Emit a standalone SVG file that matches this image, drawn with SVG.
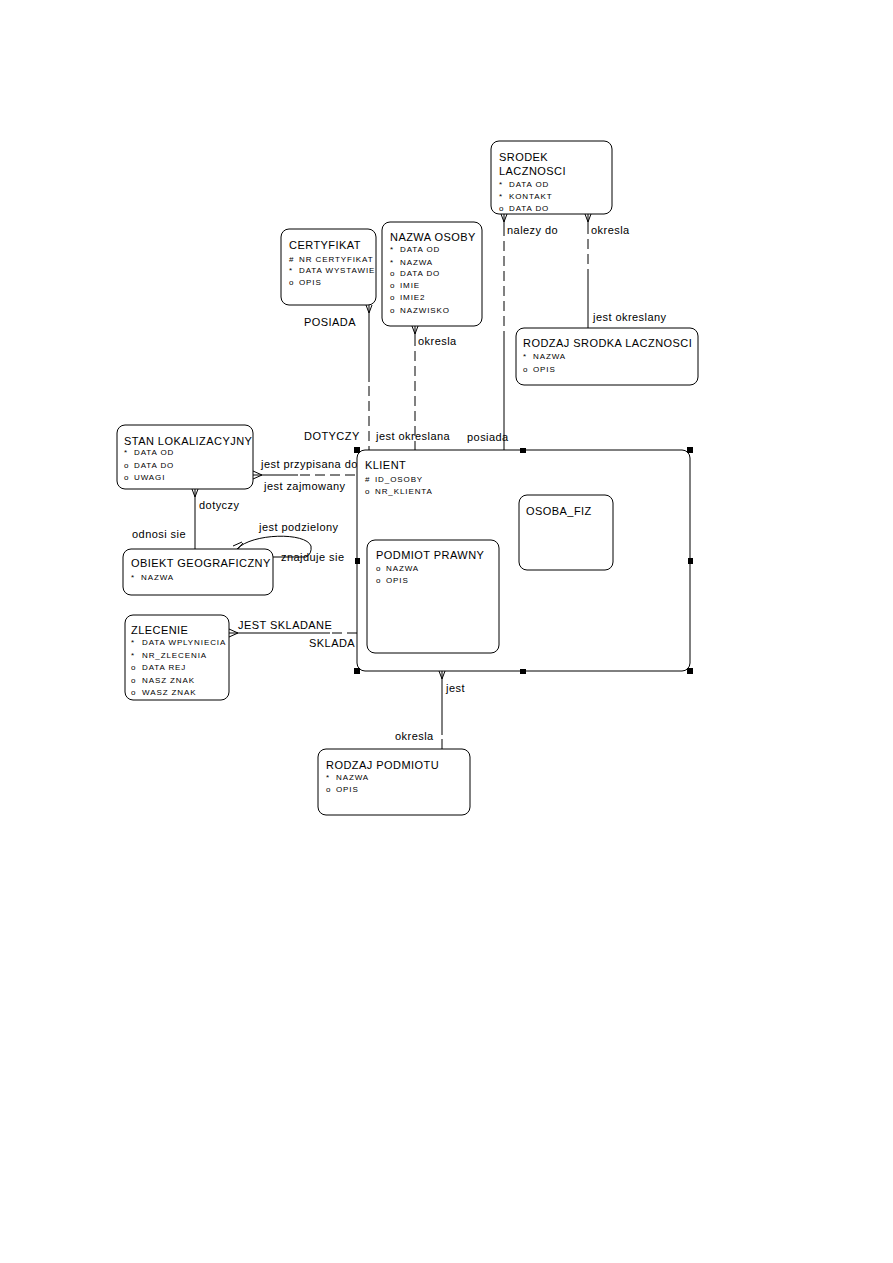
<svg xmlns="http://www.w3.org/2000/svg" width="893" height="1263" viewBox="0 0 893 1263">
<style>
.box{fill:#fff;stroke:#000;stroke-width:1}
.t{font-family:"Liberation Sans",Arial,sans-serif;font-size:11px;letter-spacing:0.45px;fill:#000}
.a{font-family:"Liberation Sans",Arial,sans-serif;font-size:8px;letter-spacing:0.9px;fill:#000}
.l{font-family:"Liberation Sans",Arial,sans-serif;font-size:11px;letter-spacing:0.45px;fill:#000}
.s{stroke:#000;stroke-width:1;fill:none}
.d{stroke:#000;stroke-width:1;fill:none;stroke-dasharray:10,5}
.h{fill:#000}
</style>
<defs>
<clipPath id="cc"><rect x="281" y="229" width="95" height="76"/></clipPath>
</defs>
<rect width="893" height="1263" fill="#fff"/>

<g id="connectors">
  <!-- SRODEK -> KLIENT -->
  <path class="s" d="M504,214 V226 M501,214 L504,222 L507,214"/>
  <path class="d" d="M504,226 V332"/>
  <path class="s" d="M504,332 V450"/>
  <!-- SRODEK -> RODZAJ SRODKA -->
  <path class="s" d="M588,214 V224 M585,214 L588,222 L591,214"/>
  <path class="d" d="M588,224 V270"/>
  <path class="s" d="M588,270 V328"/>
  <!-- CERTYFIKAT -> KLIENT -->
  <path class="s" d="M369,305 V382 M366,305 L369,313 L372,305"/>
  <path class="d" d="M369,386 V450"/>
  <!-- NAZWA OSOBY -> KLIENT -->
  <path class="s" d="M415,326 V336 M412,326 L415,334 L418,326"/>
  <path class="d" d="M415,336 V442"/>
  <path class="s" d="M415,442 V450"/>
  <!-- STAN -> KLIENT -->
  <path class="s" d="M253,475 H298 M253,471 L262,475 L253,479"/>
  <path class="d" d="M300,475 H357"/>
  <!-- STAN -> OBIEKT -->
  <path class="s" d="M195,489 V549 M192,489 L195,497 L198,489"/>
  <!-- OBIEKT self loop -->
  <path class="s" d="M273,557 H306 Q312,554 311,546 C306,532 252,533 237,549"/>
  <path class="s" d="M233,546 L242,542 M237,550 L243,543"/>
  <!-- ZLECENIE -> PODMIOT PRAWNY -->
  <path class="s" d="M229,633 H330 M229,629 L238,633 L229,637"/>
  <path class="d" d="M332,633 H365"/>
  <!-- KLIENT -> RODZAJ PODMIOTU -->
  <path class="s" d="M442,671 V735 M439,671 L442,679 L445,671"/>
  <path class="s" d="M442,739 V749"/>
</g>

<g id="labels">
  <text class="l" x="507" y="234">nalezy do</text>
  <text class="l" x="591" y="234">okresla</text>
  <text class="l" x="593" y="321">jest okreslany</text>
  <text class="l" x="304" y="326">POSIADA</text>
  <text class="l" x="418" y="345">okresla</text>
  <text class="l" x="304" y="440">DOTYCZY</text>
  <text class="l" x="376" y="440">jest okreslana</text>
  <text class="l" x="467" y="441">posiada</text>
  <text class="l" x="261" y="468">jest przypisana do</text>
  <text class="l" x="264" y="490">jest zajmowany</text>
  <text class="l" x="199" y="509">dotyczy</text>
  <text class="l" x="132" y="538">odnosi sie</text>
  <text class="l" x="259" y="531">jest podzielony</text>
  <text class="l" x="281" y="561">znajduje sie</text>
  <text class="l" x="238" y="629">JEST SKLADANE</text>
  <text class="l" x="309" y="647">SKLADA</text>
  <text class="l" x="446" y="692">jest</text>
  <text class="l" x="395" y="740">okresla</text>
</g>

<g id="srodek-lacznosci">
  <rect class="box" x="491" y="141" width="121" height="73" rx="8"/>
  <text class="t" x="499" y="161">SRODEK</text>
  <text class="t" x="499" y="175">LACZNOSCI</text>
  <text class="a" x="499" y="187">*</text><text class="a" x="509" y="187">DATA OD</text>
  <text class="a" x="499" y="199">*</text><text class="a" x="509" y="199">KONTAKT</text>
  <text class="a" x="499" y="211">o</text><text class="a" x="509" y="211">DATA DO</text>
</g>

<g id="rodzaj-srodka-lacznosci">
  <rect class="box" x="516" y="328" width="182" height="57" rx="8"/>
  <text class="t" x="523" y="347">RODZAJ SRODKA LACZNOSCI</text>
  <text class="a" x="523" y="359">*</text><text class="a" x="533" y="359">NAZWA</text>
  <text class="a" x="523" y="372">o</text><text class="a" x="533" y="372">OPIS</text>
</g>

<g id="certyfikat">
  <rect class="box" x="281" y="229" width="95" height="76" rx="8"/>
  <g clip-path="url(#cc)">
  <text class="t" x="289" y="249">CERTYFIKAT</text>
  <text class="a" x="289" y="262">#</text><text class="a" x="299" y="262">NR CERTYFIKAT</text>
  <text class="a" x="289" y="273">*</text><text class="a" x="299" y="273">DATA WYSTAWIE</text>
  <text class="a" x="289" y="285">o</text><text class="a" x="299" y="285">OPIS</text>
  </g>
</g>

<g id="nazwa-osoby">
  <rect class="box" x="382" y="222" width="100" height="104" rx="8"/>
  <text class="t" x="390" y="241">NAZWA OSOBY</text>
  <text class="a" x="390" y="252">*</text><text class="a" x="400" y="252">DATA OD</text>
  <text class="a" x="390" y="265">*</text><text class="a" x="400" y="265">NAZWA</text>
  <text class="a" x="390" y="276">o</text><text class="a" x="400" y="276">DATA DO</text>
  <text class="a" x="390" y="288">o</text><text class="a" x="400" y="288">IMIE</text>
  <text class="a" x="390" y="300">o</text><text class="a" x="400" y="300">IMIE2</text>
  <text class="a" x="390" y="313">o</text><text class="a" x="400" y="313">NAZWISKO</text>
</g>

<g id="stan-lokalizacyjny">
  <rect class="box" x="117" y="425" width="136" height="64" rx="8"/>
  <text class="t" x="124" y="445">STAN LOKALIZACYJNY</text>
  <text class="a" x="124" y="455">*</text><text class="a" x="134" y="455">DATA OD</text>
  <text class="a" x="124" y="468">o</text><text class="a" x="134" y="468">DATA DO</text>
  <text class="a" x="124" y="480">o</text><text class="a" x="134" y="480">UWAGI</text>
</g>

<g id="obiekt-geograficzny">
  <rect class="box" x="123" y="549" width="150" height="46" rx="8"/>
  <text class="t" x="131" y="567">OBIEKT GEOGRAFICZNY</text>
  <text class="a" x="131" y="580">*</text><text class="a" x="141" y="580">NAZWA</text>
</g>

<g id="zlecenie">
  <rect class="box" x="125" y="615" width="104" height="85" rx="8"/>
  <text class="t" x="131" y="634">ZLECENIE</text>
  <text class="a" x="131" y="645">*</text><text class="a" x="142" y="645">DATA WPLYNIECIA</text>
  <text class="a" x="131" y="658">*</text><text class="a" x="142" y="658">NR_ZLECENIA</text>
  <text class="a" x="131" y="670">o</text><text class="a" x="142" y="670">DATA REJ</text>
  <text class="a" x="131" y="683">o</text><text class="a" x="142" y="683">NASZ ZNAK</text>
  <text class="a" x="131" y="695">o</text><text class="a" x="142" y="695">WASZ ZNAK</text>
</g>

<g id="klient">
  <rect class="box" x="357" y="450" width="333" height="221" rx="8"/>
  <text class="t" x="365" y="469">KLIENT</text>
  <text class="a" x="365" y="482">#</text><text class="a" x="375" y="482">ID_OSOBY</text>
  <text class="a" x="365" y="494">o</text><text class="a" x="375" y="494">NR_KLIENTA</text>
  <rect class="h" x="354" y="447" width="6" height="6"/>
  <rect class="h" x="687" y="447" width="6" height="6"/>
  <rect class="h" x="354" y="668" width="6" height="6"/>
  <rect class="h" x="687" y="668" width="6" height="6"/>
  <rect class="h" x="520" y="448" width="6" height="5"/>
  <rect class="h" x="520" y="669" width="6" height="5"/>
  <rect class="h" x="355" y="558" width="5" height="6"/>
  <rect class="h" x="688" y="558" width="5" height="6"/>
</g>

<g id="osoba-fiz">
  <rect class="box" x="519" y="495" width="94" height="75" rx="8"/>
  <text class="t" x="526" y="515">OSOBA_FIZ</text>
</g>

<g id="podmiot-prawny">
  <rect class="box" x="367" y="540" width="132" height="113" rx="8"/>
  <text class="t" x="376" y="559">PODMIOT PRAWNY</text>
  <text class="a" x="376" y="571">o</text><text class="a" x="386" y="571">NAZWA</text>
  <text class="a" x="376" y="583">o</text><text class="a" x="386" y="583">OPIS</text>
</g>

<g id="rodzaj-podmiotu">
  <rect class="box" x="318" y="749" width="152" height="66" rx="8"/>
  <text class="t" x="326" y="769">RODZAJ PODMIOTU</text>
  <text class="a" x="326" y="780">*</text><text class="a" x="336" y="780">NAZWA</text>
  <text class="a" x="326" y="792">o</text><text class="a" x="336" y="792">OPIS</text>
</g>
</svg>
